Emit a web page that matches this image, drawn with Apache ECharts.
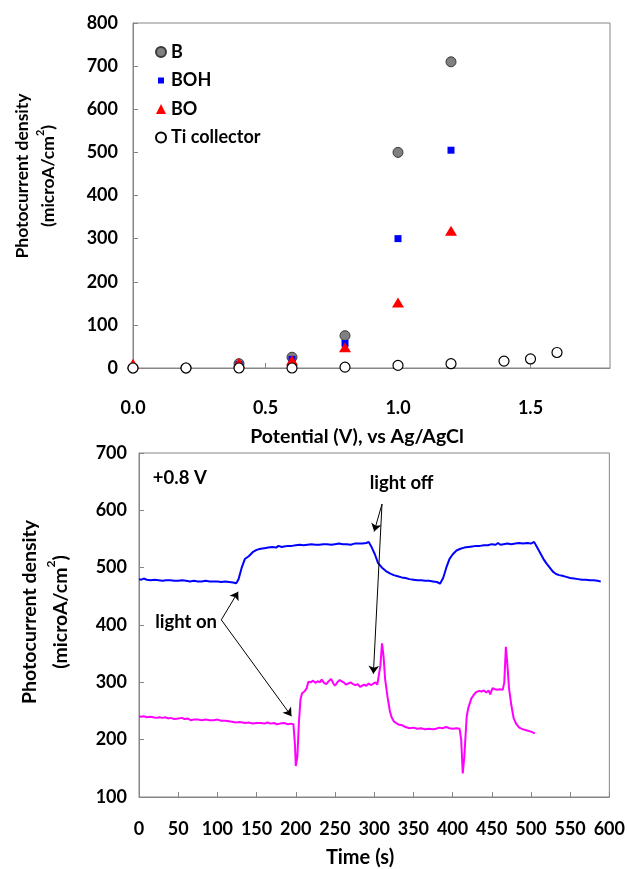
<!DOCTYPE html>
<html><head><meta charset="utf-8">
<script src="https://cdn.jsdelivr.net/npm/echarts@6/dist/echarts.min.js"></script>
<style>html,body{margin:0;padding:0;background:#fff}#c{width:628px;height:869px}</style>
</head><body><div id="c"></div>
<script>
// ---- Top chart: photocurrent vs potential ----
const potential = [0.0, 0.2, 0.4, 0.6, 0.8, 1.0, 1.2];
const seriesB   = [0, 0, 10, 25, 75, 500, 710];
const seriesBOH = [0, 0, 8, 20, 57, 300, 505];
const seriesBO  = [10, -3, 12, 18, 48, 152, 318];
const tiPotential = [0.0, 0.2, 0.4, 0.6, 0.8, 1.0, 1.2, 1.4, 1.5, 1.6];
const tiCollector = [0, 0, 0, 0, 2, 6, 10, 16, 21, 36];
const legendNames = ['B', 'BOH', 'BO', 'Ti collector'];

// ---- Bottom chart: chopped-light transients at +0.8 V ----
const blueTrace = [[0,480],[3,479],[6,481],[10,479],[15,478],[20,479],[25,478],[30,477],[35,478],[40,478],[45,477],[50,477],[55,478],[60,477],[65,476],[70,477],[75,476],[80,476],[85,477],[90,476],[95,476],[100,476],[105,475],[110,476],[115,475],[120,474],[124,473],[127,480],[131,500],[135,515],[140,520],[145,527],[150,531],[155,533],[160,534],[165,535],[170,536],[175,535],[178,538],[182,536],[185,537],[190,538],[195,538],[200,539],[205,540],[210,539],[215,540],[220,541],[225,540],[230,540],[235,541],[240,541],[245,540],[250,541],[255,542],[260,541],[265,541],[270,540],[275,542],[280,542],[285,542],[290,543],[293,545],[297,535],[301,523],[305,508],[310,500],[315,494],[320,490],[325,487],[330,485],[335,483],[340,482],[345,480],[350,479],[355,478],[360,478],[365,477],[370,477],[375,476],[380,475],[384,472],[388,482],[392,500],[396,515],[400,523],[405,530],[410,533],[415,535],[420,536],[425,537],[430,538],[435,538],[440,539],[445,539],[450,541],[455,540],[458,543],[461,540],[465,541],[470,542],[475,541],[480,542],[485,543],[490,542],[495,543],[500,542],[504,545],[508,535],[512,525],[516,515],[520,507],[524,500],[528,493],[532,489],[536,487],[540,486],[545,484],[550,482],[555,481],[560,480],[565,479],[570,479],[575,478],[580,478],[585,477],[589,476]];
const magentaTrace = [[0,241],[3,240],[6,241],[10,239],[14,240],[18,239],[22,238],[26,239],[30,238],[34,239],[37,237],[40,238],[45,236],[50,237],[55,238],[58,236],[62,237],[66,234],[70,235],[75,235],[80,234],[85,235],[90,234],[95,234],[100,235],[105,233],[110,233],[115,232],[120,231],[124,230],[128,231],[132,230],[136,229],[140,230],[145,228],[150,229],[155,229],[160,228],[164,230],[168,228],[172,229],[176,227],[180,228],[185,229],[190,227],[194,228],[197,227],[199,190],[200,154],[202,170],[204,230],[206,270],[208,281],[211,284],[214,290],[216,301],[219,300],[222,303],[225,299],[228,302],[231,300],[233,305],[236,299],[239,297],[242,302],[245,306],[248,298],[250,294],[253,300],[256,304],[258,305],[261,300],[264,296],[267,298],[270,300],[273,297],[276,295],[279,297],[282,292],[284,290],[287,296],[290,294],[293,298],[296,295],[299,298],[302,300],[304,296],[306,295],[308,330],[310,368],[312,345],[314,305],[317,275],[320,250],[322,240],[325,232],[328,229],[332,226],[336,225],[340,222],[345,220],[350,221],[355,219],[360,220],[365,218],[370,219],[375,218],[379,219],[383,221],[387,220],[392,222],[396,220],[400,219],[405,220],[409,219],[411,200],[413,141],[415,170],[418,240],[420,255],[424,272],[427,278],[430,283],[434,285],[437,284],[440,286],[443,282],[446,286],[448,279],[451,290],[454,288],[457,287],[460,288],[464,287],[466,300],[468,362],[470,330],[472,290],[475,260],[478,237],[481,228],[485,221],[490,218],[495,216],[500,214],[505,211]];

// annotation anchors in data coordinates (time s, current)
const notePotential = {text: '+0.8 V', at: [52, 656]};
const noteOff = {text: 'light off', at: [335, 648]};
const noteOn = {text: 'light on', at: [60, 405]};
const arrowsOff = [[[310, 611], [300, 563]], [[310, 611], [299, 315]]];
const arrowsOn = [[[105, 409], [126.5, 458]], [[105, 409], [194.5, 241]]];

const FONT = 'Lato';
const AX = '#868686';
const chart = echarts.init(document.getElementById('c'), null, {renderer: 'canvas'});

const pair = (xs, ys) => xs.map((x, i) => [x, ys[i]]);
const lbl = (extra) => Object.assign({fontFamily: FONT, fontWeight: 'bold', fontSize: 18, color: '#000'}, extra);
const axCommon = {
  axisLine: {lineStyle: {color: AX, width: 1}},
  axisTick: {inside: true, length: 5, lineStyle: {color: AX}},
  splitLine: {show: false}
};

const ytitle = (x, y, fs, gap) => ({
  type: 'text', x: x, y: y, rotation: Math.PI / 2,
  style: {
    text: '{t|Photocurrent density}\n{t|(microA/cm}{s|2}{t|)}',
    align: 'center', verticalAlign: 'middle',
    rich: {
      t: {fontFamily: FONT, fontWeight: 'bold', fontSize: fs, lineHeight: gap, fill: '#000'},
      s: {fontFamily: FONT, fontWeight: 'bold', fontSize: fs * 0.62, verticalAlign: 'top', lineHeight: gap, padding: [0, 0, 12, 0], fill: '#000'}
    }
  }
});

const option = {
  animation: false,
  backgroundColor: '#fff',
  grid: [
    {left: 133, top: 23, width: 477, height: 345, show: true, borderColor: AX, borderWidth: 1, backgroundColor: 'transparent'},
    {left: 139, top: 453, width: 471, height: 344, show: true, borderColor: AX, borderWidth: 1, backgroundColor: 'transparent'}
  ],
  xAxis: [
    Object.assign({type: 'value', gridIndex: 0, min: 0, max: 1.8, interval: 0.5,
      axisLabel: lbl({margin: 31, formatter: v => v.toFixed(1), showMaxLabel: false})}, axCommon),
    Object.assign({type: 'value', gridIndex: 1, min: 0, max: 600, interval: 50,
      axisLabel: lbl({margin: 23})}, axCommon)
  ],
  yAxis: [
    Object.assign({type: 'value', gridIndex: 0, min: 0, max: 800, interval: 100,
      axisLabel: lbl({margin: 15})}, axCommon),
    Object.assign({type: 'value', gridIndex: 1, min: 100, max: 700, interval: 100,
      axisLabel: lbl({margin: 12})}, axCommon)
  ],
  legend: {
    left: 150, top: 38, orient: 'vertical', itemWidth: 10, itemHeight: 10, itemGap: 10.5,
    textStyle: lbl({fontSize: 18}),
    data: [
      {name: legendNames[0], icon: 'circle'},
      {name: legendNames[1], icon: 'path://M0,0M10,10M2,2h6v6h-6z'},
      {name: legendNames[2], icon: 'triangle'},
      {name: legendNames[3], icon: 'circle'}
    ]
  },
  series: [
    {name: legendNames[0], type: 'scatter', xAxisIndex: 0, yAxisIndex: 0, symbol: 'circle', symbolSize: 10,
      itemStyle: {color: '#808080', borderColor: '#3a3a3a', borderWidth: 1, opacity: 1}, data: pair(potential, seriesB)},
    {name: legendNames[1], type: 'scatter', xAxisIndex: 0, yAxisIndex: 0, symbol: 'rect', symbolSize: 7,
      itemStyle: {color: '#0000ff', opacity: 1}, data: pair(potential, seriesBOH)},
    {name: legendNames[2], type: 'scatter', xAxisIndex: 0, yAxisIndex: 0, symbol: 'triangle', symbolSize: [12, 10],
      itemStyle: {color: '#ff0000', opacity: 1}, data: pair(potential, seriesBO)},
    {name: legendNames[3], type: 'scatter', xAxisIndex: 0, yAxisIndex: 0, symbol: 'circle', symbolSize: 10,
      itemStyle: {color: '#ffffff', borderColor: '#000', borderWidth: 1.2, opacity: 1}, data: pair(tiPotential, tiCollector)},
    {name: 'blue', type: 'line', xAxisIndex: 1, yAxisIndex: 1, showSymbol: false, symbol: 'none',
      lineStyle: {color: '#0000ff', width: 2}, data: blueTrace},
    {name: 'magenta', type: 'line', xAxisIndex: 1, yAxisIndex: 1, showSymbol: false, symbol: 'none',
      lineStyle: {color: '#ff00ff', width: 2}, data: magentaTrace,
      markLine: {
        silent: true, symbol: ['none', 'arrow'], symbolSize: 8, animation: false,
        lineStyle: {color: '#000', width: 1, type: 'solid'}, label: {show: false},
        emphasis: {disabled: true},
        data: arrowsOff.concat(arrowsOn).map(a => [{coord: a[0]}, {coord: a[1]}])
      }}
  ],
  graphic: [
    ytitle(35, 176, 17.5, 26),
    ytitle(45, 612, 19.5, 31),
    {type: 'text', x: 357, y: 437, style: {text: 'Potential (V), vs Ag/AgCl', align: 'center', verticalAlign: 'middle', fontFamily: FONT, fontWeight: 'bold', fontSize: 19.5, fill: '#000'}},
    {type: 'text', x: 360, y: 858, style: {text: 'Time (s)', align: 'center', verticalAlign: 'middle', fontFamily: FONT, fontWeight: 'bold', fontSize: 20, fill: '#000'}}
  ]
};
chart.setOption(option);

const notes = [notePotential, noteOff, noteOn].map(n => {
  const p = chart.convertToPixel({xAxisIndex: 1, yAxisIndex: 1}, n.at);
  return {type: 'text', x: p[0], y: p[1], style: {text: n.text, align: 'center', verticalAlign: 'middle', fontFamily: FONT, fontWeight: 'bold', fontSize: 18.5, fill: '#000'}};
});
chart.setOption({graphic: option.graphic.concat(notes)});
</script></body></html>
